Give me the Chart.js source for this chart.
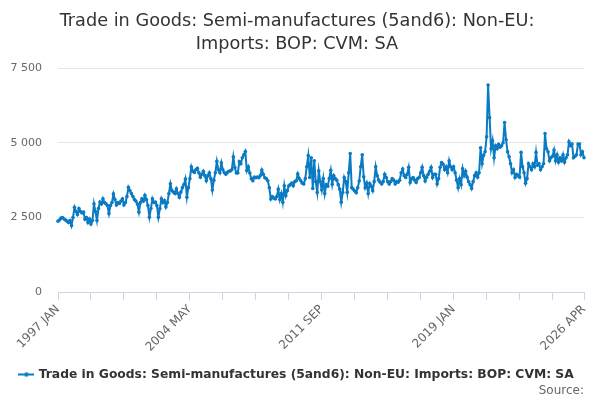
<!DOCTYPE html>
<html>
<head>
<meta charset="utf-8">
<script src="https://cdn.jsdelivr.net/npm/chart.js@4/dist/chart.umd.min.js"></script>
<style>
html,body{margin:0;padding:0;background:#fff;}
#wrap{width:600px;height:400px;}
</style>
</head>
<body>
<div id="wrap"><canvas id="c" width="600" height="400"></canvas></div>
<script>
const startYear = 1997;
const monthNames = ['JAN','FEB','MAR','APR','MAY','JUN','JUL','AUG','SEP','OCT','NOV','DEC'];

const v1997 = [2380, 2420, 2480, 2500, 2450, 2420, 2380, 2330, 2400, 2230, 2500, 2840];
const v1998 = [2700, 2600, 2800, 2700, 2650, 2680, 2440, 2500, 2330, 2450, 2280, 2400];
const v1999 = [2960, 2700, 2400, 2800, 3020, 2950, 3130, 3000, 2960, 2900, 2630, 2900];
const v2000 = [3000, 3290, 3100, 2920, 3000, 2970, 3050, 3130, 2920, 3000, 3200, 3510];
const v2001 = [3400, 3300, 3200, 3100, 3050, 2950, 2680, 3000, 3130, 3050, 3240, 3100];
const v2002 = [2900, 2510, 2800, 3130, 3000, 3020, 2900, 2510, 2800, 3130, 3000, 3070];
const v2003 = [2850, 3000, 3300, 3630, 3400, 3350, 3300, 3460, 3300, 3180, 3350, 3500];
const v2004 = [3600, 3790, 3180, 3500, 3800, 4200, 4050, 4010, 4100, 4150, 4000, 3850];
const v2005 = [3950, 4050, 3900, 3730, 3900, 4000, 3800, 3420, 3750, 4000, 4380, 4100];
const v2006 = [4000, 4330, 4100, 4000, 3950, 4010, 4050, 4060, 4100, 4530, 4170, 3990];
const v2007 = [3990, 4370, 4300, 4500, 4600, 4710, 4070, 4200, 3990, 3800, 3730, 3850];
const v2008 = [3830, 3850, 3830, 3900, 4090, 3950, 3830, 3800, 3730, 3500, 3120, 3200];
const v2009 = [3150, 3120, 3200, 3450, 3100, 3300, 3010, 3560, 3230, 3400, 3560, 3600];
const v2010 = [3650, 3560, 3700, 3730, 3960, 3800, 3730, 3650, 3620, 3800, 4200, 4570];
const v2011 = [3840, 4500, 3470, 4400, 3700, 3340, 4060, 3700, 3420, 3800, 3300, 3600];
const v2012 = [3550, 3800, 4080, 3610, 3900, 3800, 3750, 3600, 3450, 3010, 3340, 3840];
const v2013 = [3700, 3340, 4000, 4640, 3500, 3450, 3390, 3330, 3500, 3720, 4200, 4600];
const v2014 = [3860, 3500, 3650, 3300, 3640, 3550, 3400, 3700, 4200, 3900, 3750, 3680];
const v2015 = [3620, 3700, 3950, 3840, 3700, 3620, 3700, 3800, 3750, 3620, 3700, 3680];
const v2016 = [3750, 4000, 4120, 3900, 3840, 3950, 4180, 3670, 3800, 3840, 3750, 3670];
const v2017 = [3800, 3840, 4000, 4180, 3900, 3720, 3850, 3950, 4050, 4180, 3840, 3950];
const v2018 = [3950, 3620, 3800, 4180, 4340, 4280, 4100, 4200, 4000, 4400, 4200, 4100];
const v2019 = [4200, 4000, 3750, 3500, 3800, 3600, 4130, 3900, 4050, 3850, 3700, 3600];
const v2020 = [3470, 3700, 3900, 4000, 3850, 4000, 4830, 4300, 4580, 4700, 5200, 6930];
const v2021 = [5840, 4800, 5070, 4500, 4900, 4800, 4950, 4850, 4900, 5000, 5680, 5100];
const v2022 = [4700, 4530, 4300, 4000, 4100, 3840, 3950, 3900, 3850, 4680, 4200, 4000];
const v2023 = [3650, 3800, 4300, 4200, 4100, 4300, 4200, 4680, 4250, 4300, 4100, 4200];
const v2024 = [4300, 5310, 4800, 4700, 4400, 4500, 4550, 4760, 4400, 4600, 4350, 4500];
const v2025 = [4400, 4600, 4350, 4500, 4600, 5030, 4900, 4960, 4500, 4550, 4600, 4960];
const v2026 = [4960, 4600, 4700, 4500];

const yTicks = [0, 2500, 5000, 7500];
const seriesName = 'Trade in Goods: Semi-manufactures (5and6): Non-EU: Imports: BOP: CVM: SA';
const titleLines = ['Trade in Goods: Semi-manufactures (5and6): Non-EU:', 'Imports: BOP: CVM: SA'];

const values = [].concat(v1997, v1998, v1999, v2000, v2001, v2002, v2003, v2004, v2005, v2006,
  v2007, v2008, v2009, v2010, v2011, v2012, v2013, v2014, v2015, v2016, v2017, v2018, v2019,
  v2020, v2021, v2022, v2023, v2024, v2025, v2026);
const categories = values.map((_, i) => (startYear + Math.floor(i / 12)) + ' ' + monthNames[i % 12]);
const lastIdx = categories.length - 1;

const lineColor = '#0a7bc3';

// legend marker: short line with a dot
const marker = document.createElement('canvas');
marker.width = 16; marker.height = 8;
(function(){
  const g = marker.getContext('2d');
  g.strokeStyle = lineColor; g.lineWidth = 2;
  g.beginPath(); g.moveTo(0, 4); g.lineTo(16, 4); g.stroke();
  g.fillStyle = lineColor;
  g.beginPath(); g.arc(8, 4, 2.2, 0, Math.PI * 2); g.fill();
})();

const fmt = v => String(v).replace(/\B(?=(\d{3})+(?!\d))/g, ' ');

new Chart(document.getElementById('c'), {
  type: 'line',
  data: {
    labels: categories,
    datasets: [{
      label: seriesName,
      data: values,
      borderColor: lineColor,
      backgroundColor: lineColor,
      borderWidth: 2,
      pointRadius: 1.8,
      pointBorderWidth: 0,
      pointBackgroundColor: lineColor,
      tension: 0
    }]
  },
  options: {
    responsive: false,
    animation: false,
    devicePixelRatio: 1,
    layout: { padding: { left: 10, right: 16, top: 8, bottom: 2 } },
    plugins: {
      title: {
        display: true,
        text: titleLines,
        color: '#333333',
        font: { family: 'DejaVu Sans', size: 17.7, weight: 'normal', lineHeight: 1.3 },
        padding: { top: 2, bottom: 12 }
      },
      subtitle: {
        display: true,
        position: 'bottom',
        align: 'end',
        text: 'Source:',
        color: '#666666',
        font: { family: 'DejaVu Sans', size: 12, weight: 'normal' },
        padding: { top: -7, bottom: 0 }
      },
      legend: {
        position: 'bottom',
        labels: {
          usePointStyle: true,
          pointStyle: marker,
          color: '#333333',
          font: { family: 'DejaVu Sans', size: 12.3, weight: 'bold' },
          padding: 0
        }
      },
      tooltip: { enabled: false }
    },
    scales: {
      x: {
        type: 'category',
        afterFit: s => { s.paddingLeft = 0; s.paddingRight = 0; s.height = 76; },
        grid: { display: true, drawOnChartArea: false, drawTicks: true, tickLength: 8, color: '#ccd6eb' },
        border: { display: true, color: '#ccd6eb' },
        ticks: {
          autoSkip: false,
          maxRotation: 45,
          minRotation: 45,
          color: '#666666',
          font: { family: 'DejaVu Sans', size: 12 },
          padding: 2,
          callback: function(val, idx) {
            if (idx % 88 === 0 || idx === lastIdx) return categories[idx];
            if (idx % 22 === 0) return '';
            return null;
          }
        }
      },
      y: {
        min: 0,
        max: 7500,
        afterFit: s => { s.width = 48; },
        afterBuildTicks: s => { s.ticks = yTicks.map(v => ({ value: v })); },
        grid: { color: '#e6e6e6', drawTicks: false },
        border: { display: false },
        ticks: {
          color: '#666666',
          font: { family: 'DejaVu Sans', size: 11 },
          padding: 16,
          callback: v => fmt(v)
        }
      }
    }
  }
});
</script>
</body>
</html>
